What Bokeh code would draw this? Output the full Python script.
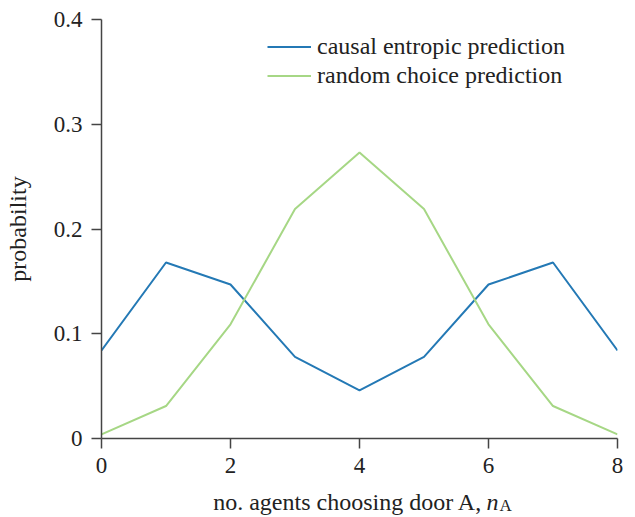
from bokeh.plotting import figure
from bokeh.layouts import column
from bokeh.models import (Range1d, FixedTicker, CustomJSTickFormatter, Legend,
                          LegendItem)
from bokeh.core.properties import value
from bokeh.embed import file_html
from bokeh.resources import INLINE

# ---- data ----
n_agents = [0, 1, 2, 3, 4, 5, 6, 7, 8]
causal_entropic = [0.084, 0.168, 0.147, 0.078, 0.046, 0.078, 0.147, 0.168, 0.084]
random_choice = [0.004, 0.031, 0.109, 0.219, 0.273, 0.219, 0.109, 0.031, 0.004]
x_ticks = [0, 2, 4, 6, 8]
y_ticks = [0, 0.1, 0.2, 0.3, 0.4]
series_names = ["causal entropic prediction", "random choice prediction"]
x_label_parts = ["no. agents choosing door A,", "n", "A"]
y_label = "probability"

FONT = "Liberation Serif"
BLUE = "#2479b5"
GREEN = "#a6d785"
AX = "#444444"
TXT = "#222222"

W = 628
p = figure(width=W, height=486, output_backend="svg", toolbar_location=None,
           x_range=Range1d(0, 8), y_range=Range1d(0, 0.4),
           min_border_left=101, min_border_right=11, min_border_top=19,
           min_border_bottom=48)
p.outline_line_color = None
p.xgrid.visible = False
p.ygrid.visible = False
p.background_fill_color = None
p.border_fill_color = "white"

r1 = p.line(n_agents, causal_entropic, line_color=BLUE, line_width=2)
r2 = p.line(n_agents, random_choice, line_color=GREEN, line_width=2)

for ax in (p.xaxis[0], p.yaxis[0]):
    ax.axis_line_color = AX
    ax.axis_line_width = 1.5
    ax.major_tick_line_color = AX
    ax.major_tick_line_width = 1.5
    ax.major_tick_in = 0
    ax.major_tick_out = 10
    ax.minor_tick_line_color = None
    ax.major_label_text_font = FONT
    ax.major_label_text_font_size = "23px"
    ax.major_label_text_color = TXT
    ax.major_label_standoff = 9
    ax.axis_label_text_font = FONT
    ax.axis_label_text_font_size = "24px"
    ax.axis_label_text_font_style = "normal"
    ax.axis_label_text_color = TXT

p.xaxis.ticker = FixedTicker(ticks=x_ticks)
p.yaxis.ticker = FixedTicker(ticks=y_ticks)
p.yaxis.formatter = CustomJSTickFormatter(
    code="return (Math.abs(tick) < 1e-9) ? '0' : tick.toFixed(1);")
p.yaxis.axis_label = y_label
p.yaxis.axis_label_standoff = 20

legend = Legend(items=[LegendItem(label=series_names[0], renderers=[r1]),
                       LegendItem(label=series_names[1], renderers=[r2])],
                location=(166, 348), orientation="vertical")
legend.border_line_color = None
legend.background_fill_color = None
legend.background_fill_alpha = 0
legend.margin = 0
legend.padding = 0
legend.spacing = 0
legend.glyph_width = 44
legend.glyph_height = 29
legend.label_height = 29
legend.label_standoff = 6
legend.label_text_font = FONT
legend.label_text_font_size = "24px"
legend.label_text_color = TXT
legend.label_text_baseline = "middle"
p.add_layout(legend, "center")

# ---- x-axis title strip (allows the subscript) ----
H2 = 31
p2 = figure(width=W, height=H2, output_backend="svg", toolbar_location=None,
            x_range=p.x_range, y_range=Range1d(0, H2),
            x_axis_location=None, y_axis_location=None,
            min_border_left=101, min_border_right=11, min_border_top=0,
            min_border_bottom=0)
p2.outline_line_color = None
p2.xgrid.visible = False
p2.ygrid.visible = False
p2.background_fill_color = None
p2.border_fill_color = "white"

xpx = 8.0 / 516.0
p2.text(x=[(482 - 101) * xpx], y=[16], text=[x_label_parts[0]],
        text_align="right", text_baseline="alphabetic",
        text_font=value(FONT), text_font_size="24px", text_color=TXT)
p2.text(x=[(486 - 101) * xpx], y=[16], text=[x_label_parts[1]],
        text_align="left", text_baseline="alphabetic", text_font_style="italic",
        text_font=value(FONT), text_font_size="24px", text_color=TXT)
p2.text(x=[(499 - 101) * xpx], y=[12], text=[x_label_parts[2]],
        text_align="left", text_baseline="alphabetic",
        text_font=value(FONT), text_font_size="17px", text_color=TXT)

layout = column(p, p2, spacing=0)
open("out.html", "w").write(file_html(layout, INLINE))
